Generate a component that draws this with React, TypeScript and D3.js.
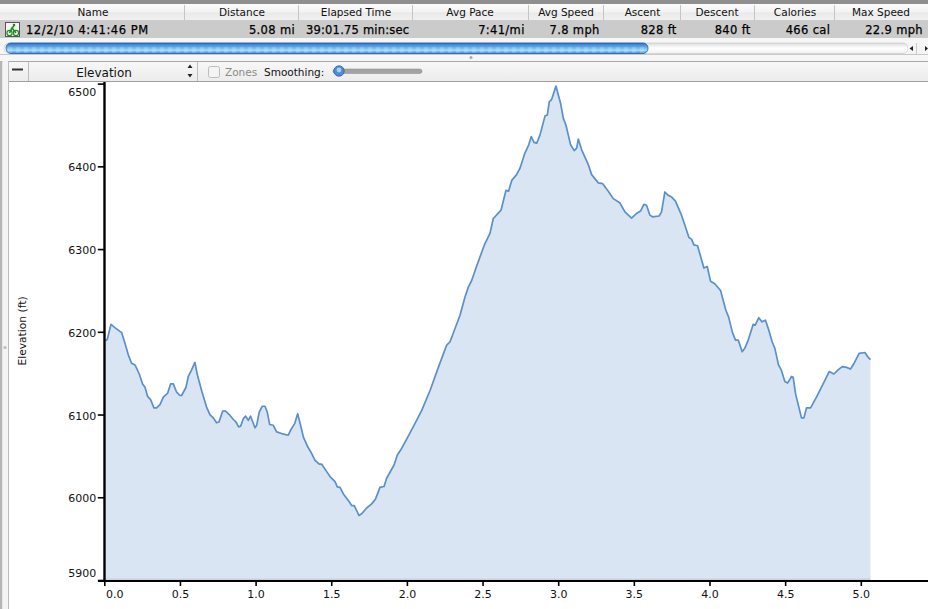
import React, { useEffect, useRef } from "react";
import * as d3 from "d3";

const distanceMi = [
  0.007,0.02,0.044,0.07,0.115,0.137,0.159,0.18,0.203,0.231,0.253,0.269,0.286,0.306,0.328,0.346,0.368,0.39,0.419,0.438,
  0.456,0.478,0.5,0.511,0.54,0.555,0.577,0.599,0.615,0.643,0.676,0.698,0.72,0.742,0.758,0.782,0.802,0.826,0.853,0.87,
  0.888,0.901,0.919,0.934,0.952,0.967,0.996,1.007,1.024,1.044,1.062,1.077,1.093,1.117,1.139,1.172,1.216,1.234,1.258,1.278,
  1.3,1.317,1.342,1.37,1.392,1.421,1.437,1.47,1.492,1.525,1.54,1.558,1.58,1.613,1.635,1.652,1.668,1.683,1.701,1.734,
  1.767,1.793,1.822,1.849,1.866,1.915,1.937,1.965,2.009,2.053,2.098,2.153,2.214,2.263,2.285,2.318,2.351,2.384,2.406,2.428,
  2.46,2.512,2.549,2.571,2.582,2.622,2.655,2.672,2.693,2.725,2.748,2.78,2.805,2.822,2.84,2.858,2.88,2.913,2.928,2.941,2.957,
  2.985,3.016,3.034,3.051,3.082,3.106,3.122,3.133,3.155,3.199,3.221,3.265,3.294,3.331,3.364,3.407,3.441,3.485,3.518,3.544,
  3.566,3.584,3.606,3.623,3.667,3.683,3.705,3.727,3.749,3.775,3.815,3.837,3.864,3.881,3.897,3.921,3.963,3.985,4.007,4.035,
  4.073,4.108,4.126,4.152,4.172,4.19,4.216,4.233,4.256,4.289,4.302,4.326,4.346,4.37,4.392,4.414,4.432,4.456,4.474,4.498,
  4.516,4.542,4.553,4.569,4.608,4.624,4.641,4.668,4.707,4.751,4.791,4.822,4.85,4.877,4.906,4.932,4.956,4.989,5.027,5.049,5.064,
];
const elevationFt = [
  6189,6191,6209,6205,6199,6186,6172,6162,6160,6149,6137,6133,6122,6118,6108,6108,6112,6121,6126,6137,
  6137,6127,6123,6123,6133,6146,6154,6163,6148,6129,6109,6100,6096,6090,6091,6104,6104,6100,6094,6091,
  6085,6086,6095,6098,6093,6098,6084,6087,6103,6110,6110,6103,6088,6087,6079,6077,6075,6082,6089,6101,
  6085,6072,6062,6053,6045,6040,6040,6031,6025,6019,6012.5,6012,6004,5996,5990,5990,5984,5978,5980,5987,
  5992,5998,6012,6013,6023,6039,6051,6059,6074,6089,6105,6129,6160,6184,6188,6204,6220,6242,6254,6262,
  6279,6305,6319,6337,6339,6347,6371,6370,6383,6390,6398,6416,6426,6436,6429,6428,6438,6461,6462,6478,6481,
  6497,6476,6458,6450,6426,6419,6422,6433,6420,6402,6390,6380,6379,6370,6361,6356,6345,6337.5,6343,6346,
  6354,6353,6341,6339,6340,6345,6369,6365,6363,6358,6341,6329,6314,6312,6305,6304,6277,6279,6261,6258,
  6250,6226,6218,6199,6190,6190,6176,6180,6190,6209,6208,6217,6212,6214,6202,6188,6180,6160,6154,6140,
  6138,6146,6145,6125,6096,6096,6108,6108,6121,6137,6152,6149,6154,6158,6157,6155,6162,6174,6175,6169,6166.5,
];
const yTicks = [5900, 6000, 6100, 6200, 6300, 6400, 6500];
const xTicks = [0, 0.5, 1, 1.5, 2, 2.5, 3, 3.5, 4, 4.5, 5, 5.5];
const headerLabels = ["Name", "Distance", "Elapsed Time", "Avg Pace", "Avg Speed", "Ascent", "Descent", "Calories", "Max Speed"];
const headerCenters = [93, 242, 356, 470, 566, 642.5, 717, 795, 881];
const headerSeparators = [184.5, 298.5, 412.5, 528.5, 603.5, 680.5, 754.5, 834.5];
const rowValues = ["5.08 mi", "7:41/mi", "7.8 mph", "828 ft", "840 ft", "466 cal", "22.9 mph"];
const rowRights = [295, 524.7, 599.7, 676.7, 750.7, 830.3, 923];

const UI = '"DejaVu Sans", sans-serif';

export default function App() {
  const yRef = useRef<SVGGElement>(null);
  const xRef = useRef<SVGGElement>(null);

  const x = d3.scaleLinear().domain([0, 6]).range([104.3, 104.3 + 151.3 * 6]);
  const y = d3.scaleLinear().domain([5900, 6500]).range([580, 83.6]);
  const pts = distanceMi.map((d, i) => [d, elevationFt[i]] as [number, number]);
  const line = d3.line<[number, number]>().x((d) => x(d[0])).y((d) => y(d[1]));
  const area = d3
    .area<[number, number]>()
    .x((d) => x(d[0]))
    .y0(y(5900) - 0.5)
    .y1((d) => y(d[1]));

  useEffect(() => {
    const ya = d3.select(yRef.current!);
    ya.call(d3.axisLeft(y).tickValues(yTicks).tickSize(6.5).tickPadding(1.5).tickFormat(d3.format("d") as any));
    ya.select(".domain").remove();
    ya.selectAll(".tick line").attr("stroke", "#000").attr("stroke-width", 1.6);
    ya.selectAll<SVGTextElement, number>(".tick text")
      .attr("font-size", 11)
      .attr("font-family", UI)
      .attr("fill", "#111")
      .attr("dy", (d) => (d === 6500 ? "1.05em" : d === 5900 ? "-0.3em" : "0.42em"));

    const xa = d3.select(xRef.current!);
    xa.call(d3.axisBottom(x).tickValues(xTicks).tickSize(5).tickPadding(4).tickFormat(d3.format(".1f") as any));
    xa.select(".domain").remove();
    xa.selectAll(".tick line").attr("stroke", "#000").attr("stroke-width", 1.6);
    xa.selectAll<SVGTextElement, number>(".tick text")
      .attr("font-size", 11)
      .attr("font-family", UI)
      .attr("fill", "#111")
      .attr("dx", (d) => (d === 0 ? 10 : 0));
  }, []);

  return (
    <svg width={928} height={609} style={{ position: "absolute", left: 0, top: 0, background: "#fff" }} fontFamily={UI}>
      <defs>
        <linearGradient id="hdr" x1="0" x2="0" y1="0" y2="1">
          <stop offset="0" stopColor="#fbfbfb" />
          <stop offset="0.5" stopColor="#f3f3f3" />
          <stop offset="0.55" stopColor="#e9e9e9" />
          <stop offset="1" stopColor="#f1f1f1" />
        </linearGradient>
        <linearGradient id="tool" x1="0" x2="0" y1="0" y2="1">
          <stop offset="0" stopColor="#f7f7f7" />
          <stop offset="1" stopColor="#ececec" />
        </linearGradient>
        <linearGradient id="blue" x1="0" x2="0" y1="0" y2="1">
          <stop offset="0" stopColor="#2c6fc4" />
          <stop offset="0.45" stopColor="#6fb4ee" />
          <stop offset="0.7" stopColor="#a6daf8" />
          <stop offset="1" stopColor="#3c83d2" />
        </linearGradient>
        <linearGradient id="track" x1="0" x2="0" y1="0" y2="1">
          <stop offset="0" stopColor="#dcdcdc" />
          <stop offset="0.5" stopColor="#ffffff" />
          <stop offset="1" stopColor="#f0f0f0" />
        </linearGradient>
        <pattern id="stripes" width={8} height={11} patternUnits="userSpaceOnUse">
          <rect x={0} y={3} width={4} height={6} fill="#ffffff" opacity={0.16} />
        </pattern>
      </defs>

      {/* table header */}
      <rect x={0} y={0} width={928} height={4} fill="#8f8f8f" />
      <rect x={0} y={4} width={928} height={16} fill="url(#hdr)" />
      {headerSeparators.map((s) => (
        <line key={s} x1={s} x2={s} y1={5} y2={20} stroke="#c4c4c4" />
      ))}
      {headerLabels.map((t, i) => (
        <text key={t} x={headerCenters[i]} y={16} textAnchor="middle" fontSize={10.5} fill="#111">
          {t}
        </text>
      ))}

      {/* selected row */}
      <rect x={0} y={20} width={928} height={18} fill="#cbcbcb" />
      <rect x={5.5} y={22.5} width={14} height={14} fill="#f4f4f4" stroke="#555" />
      <circle cx={9.5} cy={33} r={2.6} fill="none" stroke="#1f8a24" strokeWidth={1.2} />
      <circle cx={16} cy={33} r={2.6} fill="none" stroke="#1f8a24" strokeWidth={1.2} />
      <path d="M9.5 33 L12 28 L16 33 M11 29 L14 26" fill="none" stroke="#1f8a24" strokeWidth={1.6} />
      <circle cx={14} cy={25} r={1.3} fill="#1f8a24" />
      <text x={26} y={34} fontSize={11.5} letterSpacing={0.55} fill="#000" stroke="#000" strokeWidth={0.25}>12/2/10 4:41:46 PM</text>
      <text x={306} y={34} fontSize={11.5} letterSpacing={0.2} fill="#000" stroke="#000" strokeWidth={0.25}>39:01.75 min:sec</text>
      {rowValues.map((t, i) => (
        <text key={t} x={rowRights[i]} y={34} textAnchor="end" fontSize={11.5} letterSpacing={0.35} fill="#000" stroke="#000" strokeWidth={0.25}>
          {t}
        </text>
      ))}

      {/* scrollbar */}
      <rect x={0} y={38} width={928} height={16} fill="#f6f6f6" />
      <rect x={4} y={43} width={904} height={10.5} rx={5} fill="url(#track)" stroke="#bbb" strokeWidth={0.5} />
      <rect x={6} y={43} width={642} height={10.5} rx={5} fill="url(#blue)" stroke="#1c5fb0" strokeWidth={0.8} />
      <rect x={8} y={43} width={638} height={10.5} fill="url(#stripes)" />
      <rect x={908} y={43} width={20} height={11} fill="#f4f4f4" />
      <line x1={916.5} x2={916.5} y1={43} y2={54} stroke="#ccc" />
      <path d="M909.5 48.5 L913 46 L913 51 Z M925 46 L925 51 L928 48.5 Z" fill="#222" />

      {/* divider */}
      <rect x={0} y={54} width={928} height={7} fill="#f6f6f6" />
      <line x1={0} x2={928} y1={54.5} y2={54.5} stroke="#c8c8c8" />
      <line x1={0} x2={928} y1={61.5} y2={61.5} stroke="#a8a8a8" />
      <circle cx={471} cy={57.5} r={1.5} fill="#aaa" />

      {/* left rail */}
      <rect x={0} y={61} width={2.5} height={548} fill="#b5b5b5" />
      <rect x={2.5} y={61} width={6} height={548} fill="#f4f4f4" />
      <line x1={8.5} x2={8.5} y1={61} y2={609} stroke="#bdbdbd" />
      <circle cx={5} cy={347.5} r={1.6} fill="#bbb" />

      {/* toolbar */}
      <rect x={9} y={62} width={919} height={19} fill="url(#tool)" />
      <line x1={9} x2={928} y1={81.5} y2={81.5} stroke="#a0a0a0" />
      <line x1={28.5} x2={28.5} y1={62} y2={81} stroke="#bdbdbd" />
      <line x1={197.5} x2={197.5} y1={62} y2={81} stroke="#bdbdbd" />
      <rect x={12} y={68.5} width={11} height={2} fill="#333" />
      <text x={104} y={76.5} textAnchor="middle" fontSize={12} fill="#111">Elevation</text>
      <path d="M187.5 68 L190 64.5 L192.5 68 Z M187.5 74 L190 77.5 L192.5 74 Z" fill="#222" />
      <rect x={208.5} y={66.5} width={11} height={11} rx={2} fill="#f4f4f4" stroke="#bcbcbc" />
      <text x={225} y={75.5} fontSize={10.5} fill="#8a8a8a">Zones</text>
      <text x={264} y={75.5} fontSize={10.5} fill="#111">Smoothing:</text>
      <rect x={333} y={69} width={89} height={4.5} rx={2.2} fill="#a3a3a3" stroke="#8a8a8a" strokeWidth={0.5} />
      <circle cx={339} cy={71} r={5.2} fill="#4b8fdc" stroke="#2a5f9f" strokeWidth={0.8} />
      <circle cx={339} cy={70} r={2.4} fill="#a6d0f5" />

      {/* chart */}
      <path d={area(pts)!} fill="#dae5f3" />
      <path d={line(pts)!} fill="none" stroke="#5a90cb" strokeWidth={1.7} strokeLinejoin="round" />
      <rect x={x(0)} y={y(5900) - 1.5} width={x(distanceMi[distanceMi.length - 1]) - x(0)} height={1.5} fill="#c8d2de" />
      <g ref={yRef} transform="translate(104.3,0)" />
      <g ref={xRef} transform="translate(0,581)" />
      <line x1={104.5} x2={104.5} y1={82} y2={582} stroke="#000" strokeWidth={2.4} />
      <line x1={98} x2={928} y1={581} y2={581} stroke="#000" strokeWidth={2.2} />
      <text transform="translate(25.5,331) rotate(-90)" textAnchor="middle" fontSize={10.7} fill="#111">
        Elevation (ft)
      </text>
    </svg>
  );
}
